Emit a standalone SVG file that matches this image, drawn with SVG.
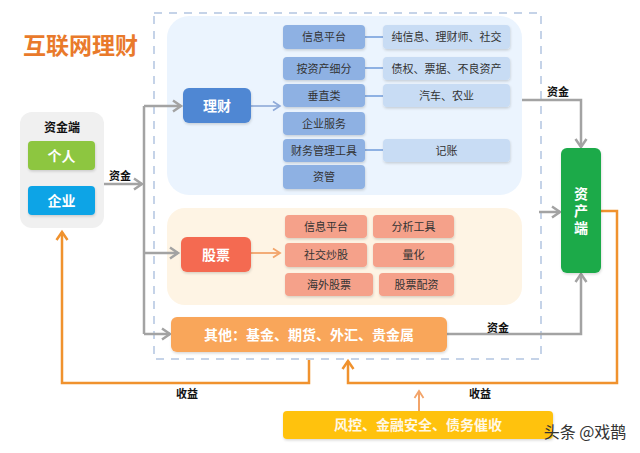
<svg xmlns="http://www.w3.org/2000/svg" width="640" height="453" viewBox="0 0 640 453">
<defs>
<filter id="sh" x="-10%" y="-20%" width="120%" height="150%">
<feDropShadow dx="0.5" dy="1.5" stdDeviation="1" flood-color="#000" flood-opacity="0.15"/>
</filter>
<marker id="ag" markerUnits="userSpaceOnUse" markerWidth="14" markerHeight="14" refX="11" refY="7" orient="auto" viewBox="0 0 14 14">
<path d="M3,1.5 L11,7 L3,12.5" fill="none" stroke="#A3A3A3" stroke-width="2.5"/>
</marker>
<marker id="ao" markerUnits="userSpaceOnUse" markerWidth="14" markerHeight="14" refX="11" refY="7" orient="auto" viewBox="0 0 14 14">
<path d="M3,1.5 L11,7 L3,12.5" fill="none" stroke="#F0922E" stroke-width="2.5"/>
</marker>
<marker id="ab" markerUnits="userSpaceOnUse" markerWidth="12" markerHeight="12" refX="10" refY="6" orient="auto" viewBox="0 0 12 12">
<path d="M3,1.5 L10,6 L3,10.5" fill="none" stroke="#8EA9D8" stroke-width="1.6"/>
</marker>
<marker id="al" markerUnits="userSpaceOnUse" markerWidth="12" markerHeight="12" refX="10" refY="6" orient="auto" viewBox="0 0 12 12">
<path d="M3,1.5 L10,6 L3,10.5" fill="none" stroke="#F2A46A" stroke-width="1.8"/>
</marker>
</defs>
<style>
text{font-family:"Noto Sans CJK SC","Noto Sans",sans-serif;text-anchor:middle}
.w{fill:#fff;font-weight:bold;font-size:14px}
.s{fill:#333;font-size:11px}
.l{fill:#111;font-weight:bold;font-size:11px}
.mb{fill:#8EB1E3}
.lb{fill:#C8DCF4}
.sk{fill:#F5A18A}
.g{fill:none;stroke:#A3A3A3;stroke-width:2.5}
.o{fill:none;stroke:#F0922E;stroke-width:2.5}
</style>
<rect width="640" height="453" fill="#fff"/>
<text x="23" y="54" style="text-anchor:start;font-size:23px;font-weight:bold;fill:#E97A2B">互联网理财</text>
<rect x="154" y="13" width="387" height="346" fill="none" stroke="#C5D3E8" stroke-width="2" stroke-dasharray="8,7"/>
<rect x="167" y="16" width="355" height="179" rx="22" fill="#EBF4FE"/>
<rect x="167" y="208" width="355" height="97" rx="18" fill="#FEF4E4"/>
<rect x="20" y="112" width="84" height="116" rx="12" fill="#F0F0F0"/>
<text x="62" y="132" style="font-size:12px;font-weight:bold;fill:#111">资金端</text>

<g id="connectors">
<path class="g" d="M104,184 H142" marker-end="url(#ag)"/>
<path class="g" d="M144,106 V334"/>
<path class="g" d="M144,106 H181" marker-end="url(#ag)"/>
<path class="g" d="M144,253 H178" marker-end="url(#ag)"/>
<path class="g" d="M144,334 H170" marker-end="url(#ag)"/>
<path class="g" d="M522,100 H581 V147" marker-end="url(#ag)"/>
<path class="g" d="M447,334 H581 V274" marker-end="url(#ag)"/>
<path class="g" d="M539,212 H560" marker-end="url(#ag)"/>
<path class="o" d="M601,211 H617 V383 H348 V361" marker-end="url(#ao)"/>
<path class="o" d="M309,360 V383 H62 V232" marker-end="url(#ao)"/>
<path d="M419,411 V391" fill="none" stroke="#F2A46A" stroke-width="2" marker-end="url(#al)"/>
<path d="M251,106 H280" fill="none" stroke="#8EA9D8" stroke-width="1.6" marker-end="url(#ab)"/>
<path d="M251,253 H280" fill="none" stroke="#F2A46A" stroke-width="1.8" marker-end="url(#al)"/>
<path d="M365,37 H383 M365,68 H383 M365,96 H383 M365,150 H383" fill="none" stroke="#8EB1E3" stroke-width="2"/>
<text class="l" x="120" y="180">资金</text>
<text class="l" x="558" y="96">资金</text>
<text class="l" x="498" y="332">资金</text>
<text class="l" x="187" y="398">收益</text>
<text class="l" x="480" y="398">收益</text>
</g>

<g id="geren"><rect x="28" y="141" width="67" height="29" rx="4" fill="#8DC641" filter="url(#sh)"/><text class="w" x="61.5" y="160.5">个人</text></g>
<g id="qiye"><rect x="28" y="186" width="67" height="29" rx="4" fill="#10A4E6" filter="url(#sh)"/><text class="w" x="61.5" y="205.5">企业</text></g>

<g id="licai"><rect x="183" y="88" width="68" height="35" rx="6" fill="#4F87D3" filter="url(#sh)"/><text class="w" x="217" y="110.5">理财</text></g>
<g id="lc1"><rect class="mb" x="283" y="25" width="82" height="24" rx="4" filter="url(#sh)"/><text class="s" x="324" y="41">信息平台</text></g>
<g id="lc2"><rect class="mb" x="283" y="57" width="82" height="23" rx="4" filter="url(#sh)"/><text class="s" x="324" y="72.5">按资产细分</text></g>
<g id="lc3"><rect class="mb" x="283" y="84" width="82" height="23" rx="4" filter="url(#sh)"/><text class="s" x="324" y="99.5">垂直类</text></g>
<g id="lc4"><rect class="mb" x="283" y="112" width="82" height="23" rx="4" filter="url(#sh)"/><text class="s" x="324" y="127.5">企业服务</text></g>
<g id="lc5"><rect class="mb" x="283" y="139" width="82" height="23" rx="4" filter="url(#sh)"/><text class="s" x="324" y="154.5">财务管理工具</text></g>
<g id="lc6"><rect class="mb" x="283" y="165" width="82" height="24" rx="4" filter="url(#sh)"/><text class="s" x="324" y="181">资管</text></g>
<g id="lr1"><rect class="lb" x="383" y="25" width="127" height="24" rx="4" filter="url(#sh)"/><text class="s" x="446.5" y="41">纯信息、理财师、社交</text></g>
<g id="lr2"><rect class="lb" x="383" y="57" width="127" height="23" rx="4" filter="url(#sh)"/><text class="s" x="446.5" y="72.5">债权、票据、不良资产</text></g>
<g id="lr3"><rect class="lb" x="383" y="84" width="127" height="23" rx="4" filter="url(#sh)"/><text class="s" x="446.5" y="99.5">汽车、农业</text></g>
<g id="lr5"><rect class="lb" x="383" y="139" width="127" height="23" rx="4" filter="url(#sh)"/><text class="s" x="446.5" y="154.5">记账</text></g>

<g id="gupiao"><rect x="181" y="237" width="70" height="35" rx="6" fill="#F46B51" filter="url(#sh)"/><text class="w" x="216" y="259.5">股票</text></g>
<g id="gp1"><rect class="sk" x="285" y="215" width="82" height="23" rx="4" filter="url(#sh)"/><text class="s" x="326" y="230.5">信息平台</text></g>
<g id="gp2"><rect class="sk" x="373" y="215" width="81" height="23" rx="4" filter="url(#sh)"/><text class="s" x="413.5" y="230.5">分析工具</text></g>
<g id="gp3"><rect class="sk" x="285" y="243" width="82" height="24" rx="4" filter="url(#sh)"/><text class="s" x="326" y="259">社交炒股</text></g>
<g id="gp4"><rect class="sk" x="373" y="243" width="81" height="24" rx="4" filter="url(#sh)"/><text class="s" x="413.5" y="259">量化</text></g>
<g id="gp5"><rect class="sk" x="285" y="273" width="88" height="23" rx="4" filter="url(#sh)"/><text class="s" x="329" y="288.5">海外股票</text></g>
<g id="gp6"><rect class="sk" x="379" y="273" width="75" height="23" rx="4" filter="url(#sh)"/><text class="s" x="416.5" y="288.5">股票配资</text></g>

<g id="qita"><rect x="171" y="317" width="276" height="35" rx="6" fill="#F9A65A" filter="url(#sh)"/><text class="w" x="309" y="339.5">其他：基金、期货、外汇、贵金属</text></g>

<g id="zichan"><rect x="561" y="148" width="40" height="125" rx="6" fill="#1BAA4A" filter="url(#sh)"/>
<text class="w" x="581" y="212" style="writing-mode:vertical-rl;letter-spacing:3px">资产端</text></g>

<g id="fengkong"><rect x="283" y="411" width="270" height="28" rx="4" fill="#FFC20E" filter="url(#sh)"/><text class="w" x="418" y="430" style="fill:#FFF8E6">风控、金融安全、债务催收</text></g>

<text x="585" y="438" style="font-size:16px;fill:#333">头条 @戏鹊</text>
</svg>
